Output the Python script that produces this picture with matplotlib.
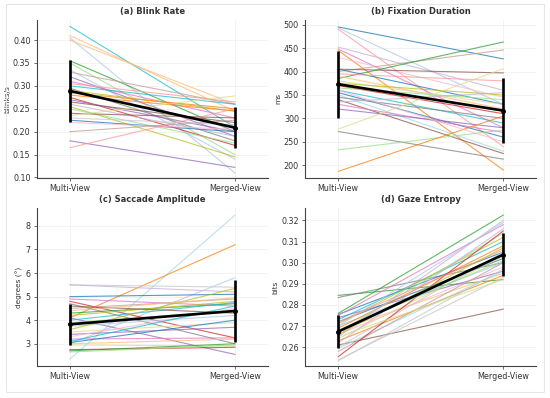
import numpy as np
import matplotlib
matplotlib.use("Agg")
import matplotlib.pyplot as plt
from matplotlib.patches import Rectangle

conditions = ["Multi-View", "Merged-View"]

blink_multi = [0.43, 0.41, 0.405, 0.40, 0.355, 0.35, 0.335, 0.33, 0.32, 0.31,
               0.305, 0.30, 0.295, 0.29, 0.285, 0.28, 0.275, 0.27, 0.265, 0.26,
               0.255, 0.25, 0.24, 0.235, 0.225, 0.22, 0.20, 0.18, 0.165, 0.23]
blink_merged = [0.21, 0.245, 0.11, 0.26, 0.20, 0.15, 0.14, 0.26, 0.19, 0.23,
                0.265, 0.26, 0.18, 0.245, 0.25, 0.245, 0.17, 0.20, 0.22, 0.19,
                0.145, 0.175, 0.23, 0.278, 0.20, 0.205, 0.225, 0.122, 0.25, 0.215]

fix_multi = [495, 490, 493, 452, 448, 445, 430, 400, 405, 385,
             405, 395, 390, 380, 375, 370, 365, 360, 355, 350,
             345, 340, 335, 330, 320, 277, 272, 233, 187, 360]
fix_merged = [427, 240, 330, 360, 280, 190, 345, 446, 397, 463,
              330, 380, 320, 330, 350, 310, 340, 290, 260, 230,
              300, 225, 355, 270, 280, 406, 213, 275, 305, 250]

sacc_multi = [2.35, 4.1, 3.0, 5.5, 5.5, 5.0, 4.9, 4.8, 4.7, 4.5,
              4.3, 4.2, 4.1, 4.0, 3.9, 3.75, 3.6, 3.5, 3.4, 3.3,
              3.2, 3.1, 3.05, 3.0, 2.95, 2.75, 2.7, 2.65, 4.6, 4.4]
sacc_merged = [8.45, 7.2, 5.8, 5.4, 5.2, 5.1, 4.6, 3.25, 3.0, 4.9,
               4.7, 4.8, 2.55, 4.75, 4.4, 4.2, 5.35, 3.9, 3.7, 4.5,
               3.25, 4.6, 4.0, 3.2, 2.9, 2.85, 3.0, 2.95, 4.3, 4.95]

ent_multi = [0.2845, 0.2835, 0.276, 0.2755, 0.275, 0.274, 0.273, 0.272, 0.271, 0.270,
             0.269, 0.268, 0.267, 0.266, 0.265, 0.264, 0.263, 0.262, 0.261, 0.260,
             0.2595, 0.258, 0.2555, 0.254, 0.2535, 0.270, 0.272, 0.268, 0.266, 0.265]
ent_merged = [0.292, 0.300, 0.3225, 0.305, 0.318, 0.296, 0.310, 0.302, 0.312, 0.300,
              0.308, 0.295, 0.314, 0.298, 0.320, 0.303, 0.294, 0.316, 0.278, 0.305,
              0.296, 0.300, 0.315, 0.293, 0.297, 0.319, 0.306, 0.301, 0.307, 0.292]

# tab20 colour index for each participant line, per panel
blink_colors = [18, 3, 1, 3, 4, 5, 1, 11, 8, 12, 7, 18, 14, 16, 2, 2, 6, 8, 10, 9,
                16, 5, 10, 17, 0, 13, 11, 8, 7, 15]
fix_colors = [0, 7, 1, 9, 12, 2, 13, 11, 10, 4, 0, 7, 3, 17, 16, 6, 5, 18, 0, 19,
              14, 10, 9, 12, 8, 17, 14, 5, 2, 13]
sacc_colors = [19, 2, 1, 15, 9, 0, 12, 6, 14, 11, 4, 16, 8, 18, 5, 1, 16, 17, 8, 13,
               12, 18, 0, 3, 17, 6, 4, 5, 10, 3]
ent_colors = [4, 14, 4, 0, 12, 8, 18, 0, 16, 1, 2, 3, 5, 13, 9, 17, 2, 9, 10, 15,
              19, 11, 6, 15, 15, 1, 7, 5, 16, 17]

panels = [
    ("(a) Blink Rate", "blinks/s", blink_multi, blink_merged, blink_colors, (0.099, 0.445),
     [0.10, 0.15, 0.20, 0.25, 0.30, 0.35, 0.40], "{:.2f}"),
    ("(b) Fixation Duration", "ms", fix_multi, fix_merged, fix_colors, (173, 511),
     [200, 250, 300, 350, 400, 450, 500], "{:.0f}"),
    ("(c) Saccade Amplitude", "degrees (°)", sacc_multi, sacc_merged, sacc_colors, (2.05, 8.77),
     [3, 4, 5, 6, 7, 8], "{:.0f}"),
    ("(d) Gaze Entropy", "bits", ent_multi, ent_merged, ent_colors, (0.251, 0.326),
     [0.26, 0.27, 0.28, 0.29, 0.30, 0.31, 0.32], "{:.2f}"),
]

fig = plt.figure(figsize=(5.5, 3.98), dpi=100)
fig.patches.append(Rectangle((0.011, 0.015), 0.978, 0.975, transform=fig.transFigure,
                             fill=False, edgecolor="#e6e6e6", linewidth=0.8))

positions = [(0.067, 0.553), (0.555, 0.553), (0.067, 0.080), (0.555, 0.080)]
cmap = plt.get_cmap("tab20")

for (title, ylabel, multi, merged, cols, ylim, yticks, fmt), (left, bottom) in zip(panels, positions):
    ax = fig.add_axes([left, bottom, 0.42, 0.398])
    for a, b, c in zip(multi, merged, cols):
        ax.plot([0, 1], [a, b], color=cmap(c), alpha=0.75, linewidth=0.8)
    means = [np.mean(multi), np.mean(merged)]
    sds = [np.std(multi, ddof=1), np.std(merged, ddof=1)]
    ax.errorbar([0, 1], means, yerr=sds, color="black", linewidth=1.9,
                elinewidth=1.9, capsize=0, marker="o", markersize=2.5, zorder=5)
    ax.set_xlim(-0.2, 1.2)
    ax.set_ylim(*ylim)
    ax.set_xticks([0, 1])
    ax.set_xticklabels(conditions)
    ax.set_yticks(yticks)
    ax.set_yticklabels([fmt.format(t) for t in yticks])
    ax.tick_params(labelsize=5.8, length=2, width=0.5, colors="#333333", pad=2.5)
    ax.set_title(title, fontsize=6, fontweight="bold", color="#333333", pad=4)
    ax.set_ylabel(ylabel, fontsize=5.3, color="#333333", labelpad=2)
    ax.grid(True, color="#eeeeee", linewidth=0.5)
    ax.set_axisbelow(True)
    for side in ["top", "right"]:
        ax.spines[side].set_visible(False)
    for side in ["left", "bottom"]:
        ax.spines[side].set_color("#444444")
        ax.spines[side].set_linewidth(0.8)

fig.savefig("out.png", dpi=100)
